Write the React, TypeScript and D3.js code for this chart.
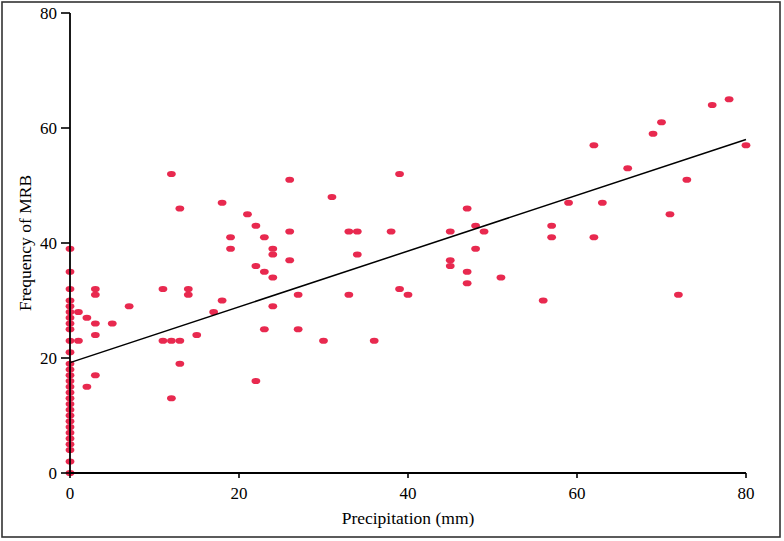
import React from "react";
import * as d3 from "d3";

const precipitation: number[] = [
  0, 0, 0, 0, 0, 0, 0, 0, 0, 0, 0, 0, 0, 0, 0, 0, 0, 0, 0, 0, 0, 0, 0, 0, 0, 0, 0, 0, 0,
  1, 2, 3, 3, 3, 3, 1, 5, 7, 2, 3,
  11, 11, 12, 13, 13, 14, 14, 15, 17, 18, 18, 19, 19, 21, 22, 22, 12, 12, 13, 22,
  23, 26, 31, 26, 24, 24, 26, 23, 24, 33, 34, 38, 39, 34, 27, 33, 24, 23, 27, 30, 36, 39, 40,
  47, 45, 48, 49, 48, 45, 45, 47, 47, 51, 56, 57, 57,
  76, 78, 70, 69, 62, 80, 66, 73, 59, 63, 71, 62, 72,
];

const frequency: number[] = [
  0, 2, 4, 5, 6, 7, 8, 9, 10, 11, 12, 13, 14, 15, 16, 17, 18, 19, 21, 23, 25, 26, 27, 28, 29, 30, 32, 35, 39,
  28, 27, 32, 31, 26, 24, 23, 26, 29, 15, 17,
  32, 23, 23, 23, 46, 32, 31, 24, 28, 30, 47, 41, 39, 45, 43, 36, 52, 13, 19, 16,
  41, 51, 48, 42, 39, 38, 37, 35, 34, 42, 42, 42, 52, 38, 31, 31, 29, 25, 25, 23, 23, 32, 31,
  46, 42, 43, 42, 39, 37, 36, 35, 33, 34, 30, 43, 41,
  64, 65, 61, 59, 57, 57, 53, 51, 47, 47, 45, 41, 31,
];

const trendX: number[] = [0, 80];
const trendY: number[] = [19.2, 58];

const xTicks: number[] = [0, 20, 40, 60, 80];
const yTicks: number[] = [0, 20, 40, 60, 80];

const xTitle = "Precipitation (mm)";
const yTitle = "Frequency of MRB";

export default function App() {
  const W = 784;
  const H = 541;
  const left = 70;
  const right = 746;
  const top = 13;
  const bottom = 473;

  const x = d3.scaleLinear().domain([0, 80]).range([left, right]);
  const y = d3.scaleLinear().domain([0, 80]).range([bottom, top]);

  const line = d3
    .line<number>()
    .x((_, i) => x(trendX[i]))
    .y((d) => y(d));

  const font = "'Liberation Serif', 'Times New Roman', serif";

  return (
    <svg
      width={W}
      height={H}
      style={{ position: "absolute", left: 0, top: 0, background: "#fff" }}
      fontFamily={font}
    >
      <rect x={2} y={2} width={778} height={535} fill="#fff" stroke="#333" strokeWidth={1.6} />

      {precipitation.map((p, i) => (
        <ellipse key={i} cx={x(p)} cy={y(frequency[i])} rx={4.4} ry={3.1} fill="#e8294f" />
      ))}

      <path d={line(trendY) || ""} fill="none" stroke="#000" strokeWidth={1.5} />

      {/* axes */}
      <line x1={left} x2={left} y1={top} y2={bottom} stroke="#000" strokeWidth={1.8} />
      <line x1={left} x2={right} y1={bottom} y2={bottom} stroke="#000" strokeWidth={1.8} />

      {yTicks.map((t) => (
        <g key={"y" + t}>
          <line x1={left - 9} x2={left} y1={y(t)} y2={y(t)} stroke="#000" strokeWidth={1.6} />
          <text x={left - 13} y={y(t)} dy="0.35em" textAnchor="end" fontSize={17} fill="#000">
            {t}
          </text>
        </g>
      ))}

      {xTicks.map((t) => (
        <g key={"x" + t}>
          <line x1={x(t)} x2={x(t)} y1={bottom} y2={bottom + 5} stroke="#000" strokeWidth={1.6} />
          <text x={x(t)} y={493} dy="0.35em" textAnchor="middle" fontSize={17} fill="#000">
            {t}
          </text>
        </g>
      ))}

      <text x={(left + right) / 2} y={518} dy="0.35em" textAnchor="middle" fontSize={17.5} fill="#000">
        {xTitle}
      </text>
      <text
        transform={`translate(25, ${(top + bottom) / 2}) rotate(-90)`}
        dy="0.35em"
        textAnchor="middle"
        fontSize={17.5}
        fill="#000"
      >
        {yTitle}
      </text>
    </svg>
  );
}
